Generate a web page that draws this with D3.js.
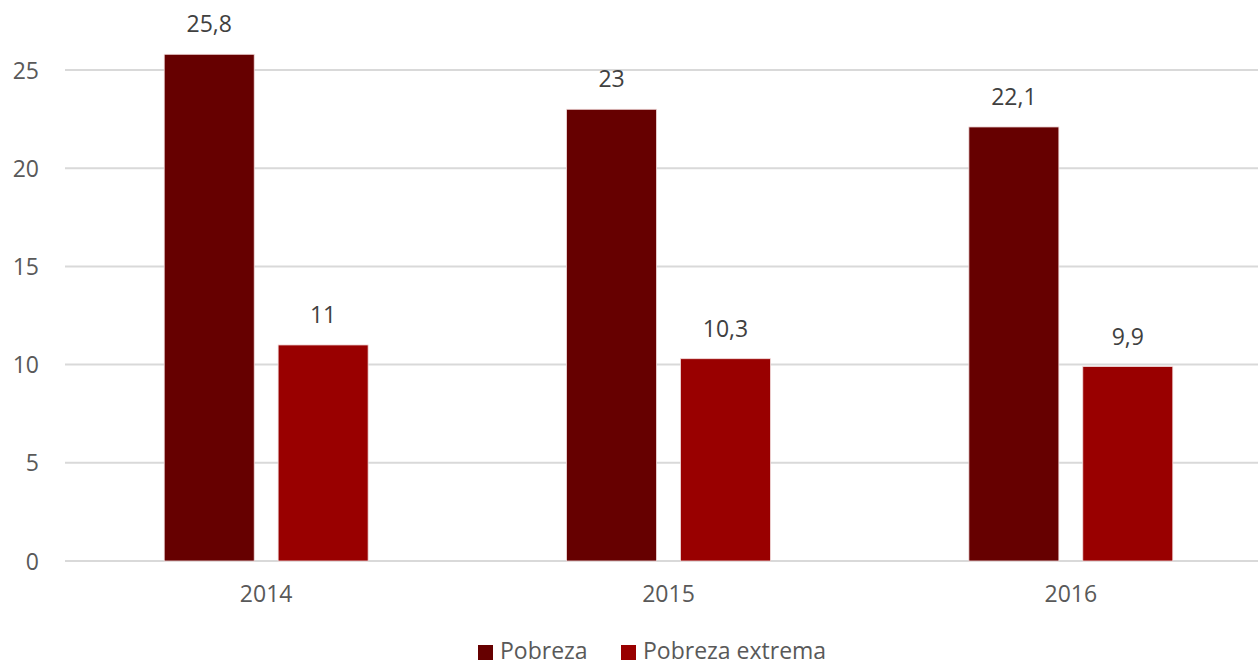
<!DOCTYPE html>
<html>
<head>
<meta charset="utf-8">
<script src="https://cdn.jsdelivr.net/npm/d3@7"></script>
<style>
  html, body { margin: 0; padding: 0; background: #fff; }
  svg { display: block; }
  text { font-family: "Open Sans", "Noto Sans", sans-serif; }
</style>
</head>
<body>
<svg id="chart" width="1258" height="666"></svg>
<script>
// Tasas de pobreza (%) por año
const years = ["2014", "2015", "2016"];
const seriesNames = ["Pobreza", "Pobreza extrema"];
const pobreza = [25.8, 23, 22.1];
const pobrezaExtrema = [11, 10.3, 9.9];
const yTicks = [0, 5, 10, 15, 20, 25];
const colors = ["#660000", "#990000"];

const W = 1258, H = 666;
const margin = { left: 65, right: -14, top: 70, bottom: 105 };

const svg = d3.select("#chart");

const x = d3.scaleBand()
  .domain(years)
  .range([margin.left, W - margin.right])
  .paddingInner(0)
  .paddingOuter(0);

// Bar pair occupies the central ~51% of each year band
const bw = x.bandwidth();
const x1 = d3.scaleBand()
  .domain(seriesNames)
  .range([bw * 0.2466, bw * 0.7534])
  .paddingInner(0.21)
  .paddingOuter(0);

const y = d3.scaleLinear()
  .domain([0, 25])
  .range([H - margin.bottom, margin.top]);

// Gridlines
svg.append("g")
  .selectAll("line")
  .data(yTicks)
  .join("line")
  .attr("x1", margin.left)
  .attr("x2", W)
  .attr("y1", d => y(d))
  .attr("y2", d => y(d))
  .attr("stroke", "#d9d9d9")
  .attr("stroke-width", 2);

// Y axis labels
const yAxis = d3.axisLeft(y).tickValues(yTicks).tickSize(0).tickPadding(26)
  .tickFormat(d3.format("d"));
const gy = svg.append("g")
  .attr("transform", `translate(${margin.left},0)`)
  .call(yAxis);
gy.select(".domain").remove();
gy.selectAll("text")
  .attr("fill", "#595959")
  .style("font-size", "23px")
  .attr("dy", "0.35em");

// Bars
const data = years.map((yr, i) => ({
  year: yr,
  values: [
    { name: seriesNames[0], value: pobreza[i], color: colors[0] },
    { name: seriesNames[1], value: pobrezaExtrema[i], color: colors[1] }
  ]
}));

const fmt = v => String(v).replace(".", ",");

const groups = svg.append("g")
  .selectAll("g")
  .data(data)
  .join("g")
  .attr("transform", d => `translate(${x(d.year)},0)`);

groups.selectAll("rect")
  .data(d => d.values)
  .join("rect")
  .attr("x", d => x1(d.name))
  .attr("width", x1.bandwidth())
  .attr("y", d => y(d.value))
  .attr("height", d => y(0) - y(d.value))
  .attr("fill", d => d.color)
  .attr("stroke", "#f2dcdc")
  .attr("stroke-width", 0.8);

groups.selectAll("text.val")
  .data(d => d.values)
  .join("text")
  .attr("class", "val")
  .attr("x", d => x1(d.name) + x1.bandwidth() / 2)
  .attr("y", d => y(d.value) - 22)
  .attr("text-anchor", "middle")
  .attr("fill", "#404040")
  .style("font-size", "23px")
  .text(d => fmt(d.value));

// X axis labels
const xAxis = d3.axisBottom(x).tickSize(0).tickPadding(25);
const gx = svg.append("g")
  .attr("transform", `translate(0,${y(0)})`)
  .call(xAxis);
gx.select(".domain").remove();
gx.selectAll("text")
  .attr("fill", "#595959")
  .style("font-size", "23px");

// Legend
const legendItems = [
  { name: seriesNames[0], color: colors[0], x: 478 },
  { name: seriesNames[1], color: colors[1], x: 621 }
];
const legend = svg.append("g");
legendItems.forEach(it => {
  legend.append("rect")
    .attr("x", it.x).attr("y", 645)
    .attr("width", 15).attr("height", 15)
    .attr("fill", it.color);
  legend.append("text")
    .attr("x", it.x + 22).attr("y", 659)
    .attr("fill", "#595959")
    .style("font-size", "23px")
    .text(it.name);
});
</script>
</body>
</html>
